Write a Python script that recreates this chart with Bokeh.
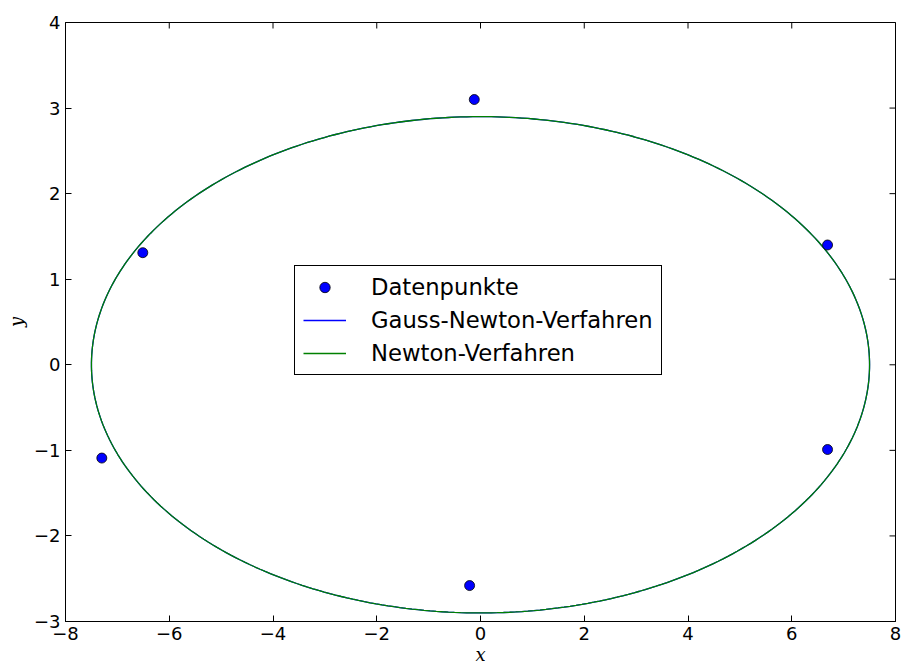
import numpy as np
from bokeh.plotting import figure
from bokeh.models import (Range1d, FixedTicker, CustomJSTickFormatter,
                          Legend, LegendItem)
from bokeh.embed import file_html
from bokeh.resources import INLINE

# data points
data_x = [-0.12, -6.51, 6.69, -7.30, 6.69, -0.21]
data_y = [3.10, 1.31, 1.40, -1.09, -0.99, -2.58]

# fitted ellipse parameters (center, semi-axes) for both methods
gn_params = dict(cx=0.0, cy=0.0, a=7.50, b=2.90)
nw_params = dict(cx=0.0, cy=0.0, a=7.50, b=2.90)

x_ticks = [-8, -6, -4, -2, 0, 2, 4, 6, 8]
y_ticks = [-3, -2, -1, 0, 1, 2, 3, 4]
x_min, x_max = -8, 8
y_min, y_max = -3, 4

labels = ["Datenpunkte", "Gauss-Newton-Verfahren", "Newton-Verfahren"]


def ellipse(pr, n=400):
    t = np.linspace(0, 2 * np.pi, n)
    return pr["cx"] + pr["a"] * np.cos(t), pr["cy"] + pr["b"] * np.sin(t)


p = figure(width=901, height=669, output_backend="svg", toolbar_location=None,
           x_range=Range1d(x_min, x_max), y_range=Range1d(y_min, y_max),
           min_border_left=65, min_border_right=6, min_border_top=22,
           min_border_bottom=48, x_axis_label="x", y_axis_label="y")
p.grid.visible = False
p.outline_line_color = "black"
p.outline_line_alpha = 1.0
p.outline_line_width = 1
p.background_fill_color = "white"
p.border_fill_color = "white"

fmt = CustomJSTickFormatter(code="return (tick < 0 ? '\u2212' : '') + Math.abs(tick).toFixed(0);")

for ax, ticks in ((p.xaxis[0], x_ticks), (p.yaxis[0], y_ticks)):
    ax.ticker = FixedTicker(ticks=ticks)
    ax.formatter = fmt
    ax.major_tick_in = 6
    ax.major_tick_out = 0
    ax.minor_tick_line_color = None
    ax.axis_line_color = "black"
    ax.major_tick_line_color = "black"
    ax.major_label_text_font = "DejaVu Sans"
    ax.major_label_text_font_size = "18px"
    ax.major_label_text_color = "black"
    ax.major_label_standoff = 5
    ax.axis_label_text_font = "DejaVu Serif"
    ax.axis_label_text_font_style = "italic"
    ax.axis_label_text_font_size = "18px"
    ax.axis_label_text_color = "black"

p.xaxis[0].axis_label_standoff = 1
p.yaxis[0].axis_label_standoff = 4

# inward ticks on the top and right edges (clipped to the frame)
p.scatter(x_ticks, [y_max] * len(x_ticks), marker="dash", size=12,
          angle=np.pi / 2, line_color="black", line_width=1)
p.scatter([x_max] * len(y_ticks), y_ticks, marker="dash", size=12,
          line_color="black", line_width=1)

gx, gy = ellipse(gn_params)
nx, ny = ellipse(nw_params)
r_gn = p.line(gx, gy, line_color="#0000ff", line_width=1.3)
r_nw = p.line(nx, ny, line_color="#008000", line_width=1.3)
r_pts = p.scatter(data_x, data_y, size=10, fill_color="#0000ff",
                  line_color="black", line_width=0.8)

legend = Legend(items=[LegendItem(label=labels[0], renderers=[r_pts]),
                       LegendItem(label=labels[1], renderers=[r_gn]),
                       LegendItem(label=labels[2], renderers=[r_nw])],
                location=(229, 246), margin=0, padding=8, spacing=7,
                glyph_width=43, glyph_height=26, label_height=26,
                label_standoff=25, label_text_font="DejaVu Sans",
                label_text_font_size="22.7px", label_text_color="black",
                border_line_color="black", border_line_alpha=1.0,
                border_line_width=1, background_fill_color="white",
                background_fill_alpha=1.0)
p.add_layout(legend, "center")

open("out.html", "w").write(file_html(p, INLINE))
